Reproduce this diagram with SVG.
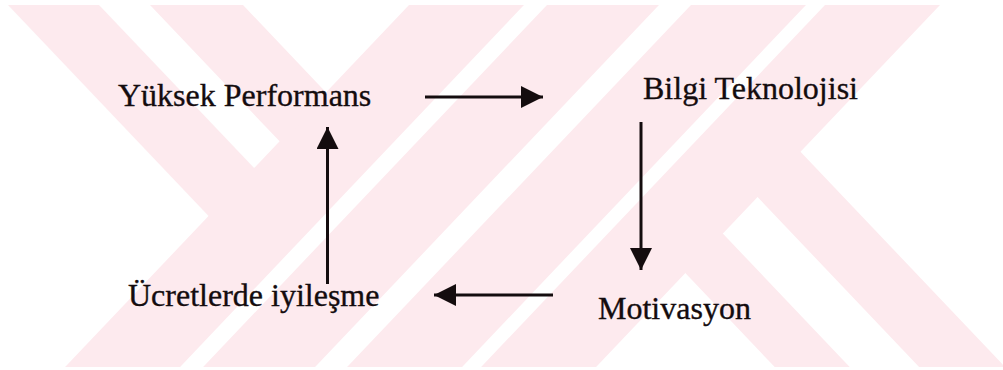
<svg xmlns="http://www.w3.org/2000/svg" width="1003" height="370" viewBox="0 0 1003 370">
  <defs>
    <style>
      .wm { fill: #fdeaee; stroke: none; }
      .label { font-family: "Liberation Serif", "Times New Roman", serif; font-size: 32px; fill: #140c0e; stroke: #140c0e; stroke-width: 0.35; }
      .link { stroke: #140c0e; stroke-width: 3; fill: none; marker-end: url(#head); }
    </style>
    <marker id="head" markerUnits="userSpaceOnUse" markerWidth="23" markerHeight="22" refX="22" refY="11" orient="auto">
      <path d="M0,0 L22,11 L0,22 Z" fill="#140c0e"/>
    </marker>
  </defs>

  <rect width="1003" height="370" fill="#ffffff"/>

  <!-- background watermark: a wide "/" band of four stripes crossed by two "\" arms -->
  <g id="watermark">
    <!-- "/" stripes, full height -->
    <polygon class="wm" points="409,5 524,5 180.1,367 65.1,367"/>
    <polygon class="wm" points="547,5 659,5 315.1,367 203.1,367"/>
    <polygon class="wm" points="691,5 806,5 462.1,367 347.1,367"/>
    <polygon class="wm" points="825,5 940,5 596.1,367 481.1,367"/>
    <!-- upper-left "\" arm, stopping at the band -->
    <polygon class="wm" points="8,5 99,5 256,170 210.5,218"/>
    <polygon class="wm" points="150,5 243,5 328,94.4 281.5,143.3"/>
    <!-- lower-right "\" arm, leaving the band -->
    <polygon class="wm" points="798.6,149.7 1005.1,367 919.1,367 755.6,195"/>
    <polygon class="wm" points="720.9,231.5 849.7,367 774.7,367 683.4,271"/>
  </g>

  <!-- connectors -->
  <g id="connectors">
    <line class="link" x1="425" y1="97" x2="543" y2="97"/>
    <line class="link" x1="641" y1="122" x2="641" y2="270"/>
    <line class="link" x1="553" y1="295" x2="434" y2="295"/>
    <line class="link" x1="327.5" y1="284" x2="327.5" y2="127"/>
  </g>

  <g id="node-performans">
    <text class="label" x="118" y="106">Yüksek Performans</text>
  </g>
  <g id="node-bilgi">
    <text class="label" x="643" y="99">Bilgi Teknolojisi</text>
  </g>
  <g id="node-motivasyon">
    <text class="label" x="598" y="319">Motivasyon</text>
  </g>
  <g id="node-ucret">
    <text class="label" x="128" y="306">Ücretlerde iyileşme</text>
  </g>
</svg>
